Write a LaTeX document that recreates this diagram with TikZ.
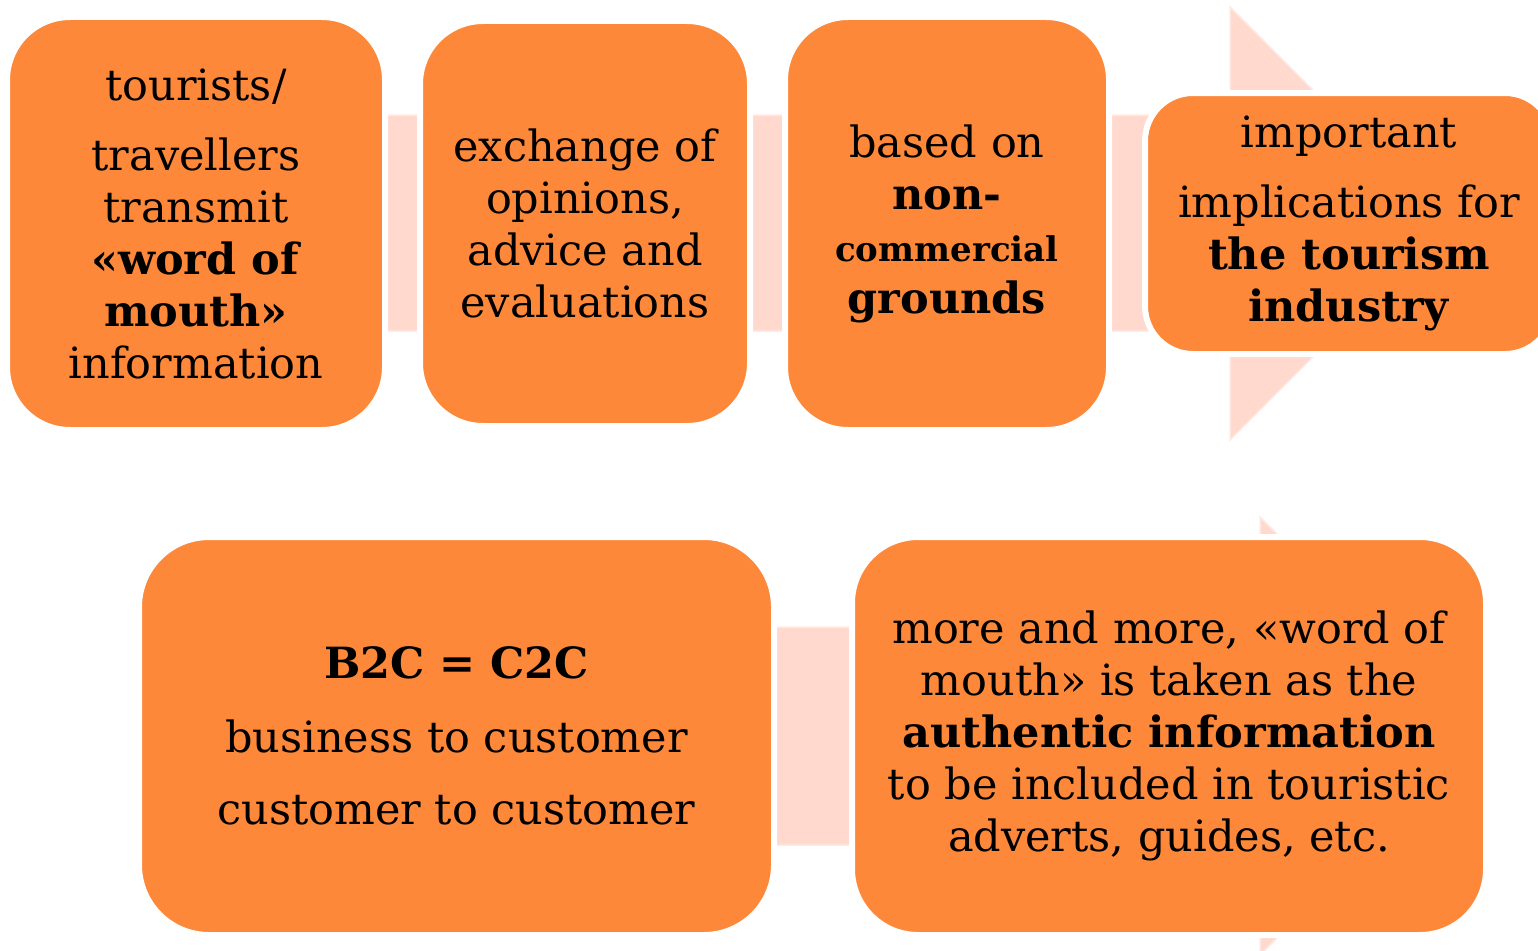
\documentclass[tikz,border=0pt]{standalone}
\usepackage{fontspec}
\setmainfont{DejaVu Serif}
\definecolor{boxorange}{RGB}{253,136,58}
\definecolor{arrowpink}{RGB}{255,217,206}
\definecolor{arrowrim}{RGB}{255,233,226}
\begin{document}
\begin{tikzpicture}[x=1pt,y=-1pt,
  block/.style={fill=boxorange,draw=white,line width=6pt,rounded corners=#1,
    align=center,inner sep=0pt,text=black,font=\fontsize{43}{52}\selectfont},
  block/.default=63pt,
  flowarrow/.style={fill=arrowpink,draw=arrowrim,line width=1.5pt}]
\useasboundingbox (0,0) rectangle (1538,950);

% broad process arrows behind the boxes
\path[flowarrow] (10,115) -- (1230,115) -- (1230,7) -- (1446,223.5)
  -- (1230,440) -- (1230,331) -- (10,331) -- cycle;
\path[flowarrow] (300,627) -- (1260,627) -- (1260,517) -- (1479,736)
  -- (1260,955) -- (1260,845) -- (300,845) -- cycle;

% top row
\node[block, minimum width=378pt, minimum height=413pt] (b1) at (196,223.5)
  {tourists/\\[18pt]travellers\\transmit\\\textbf{«word of}\\\textbf{mouth»}\\information};
\node[block, minimum width=330pt, minimum height=405pt] (b2) at (585,223.5)
  {exchange of\\opinions,\\advice and\\evaluations};
\node[block, minimum width=324pt, minimum height=413pt] (b3) at (947,223.5)
  {based on\\\textbf{non-}\\{\bfseries\fontsize{34}{40}\selectfont commercial}\\\textbf{grounds}};
\node[block=48pt, minimum width=408pt, minimum height=261pt] (b4) at (1349,223.5)
  {important\\[18pt]implications for\\\textbf{the tourism}\\\textbf{industry}};

% bottom row
\node[block=70pt, minimum width=635pt, minimum height=398pt] (c1) at (456.5,736)
  {\textbf{B2C = C2C}\\[22pt]business to customer\\[20pt]customer to customer};
\node[block=66pt, minimum width=634pt, minimum height=398pt] (c2) at (1169,736)
  {more and more, «word of\\mouth» is taken as the\\\textbf{authentic information}\\to be included in touristic\\adverts, guides, etc.};
\end{tikzpicture}
\end{document}
